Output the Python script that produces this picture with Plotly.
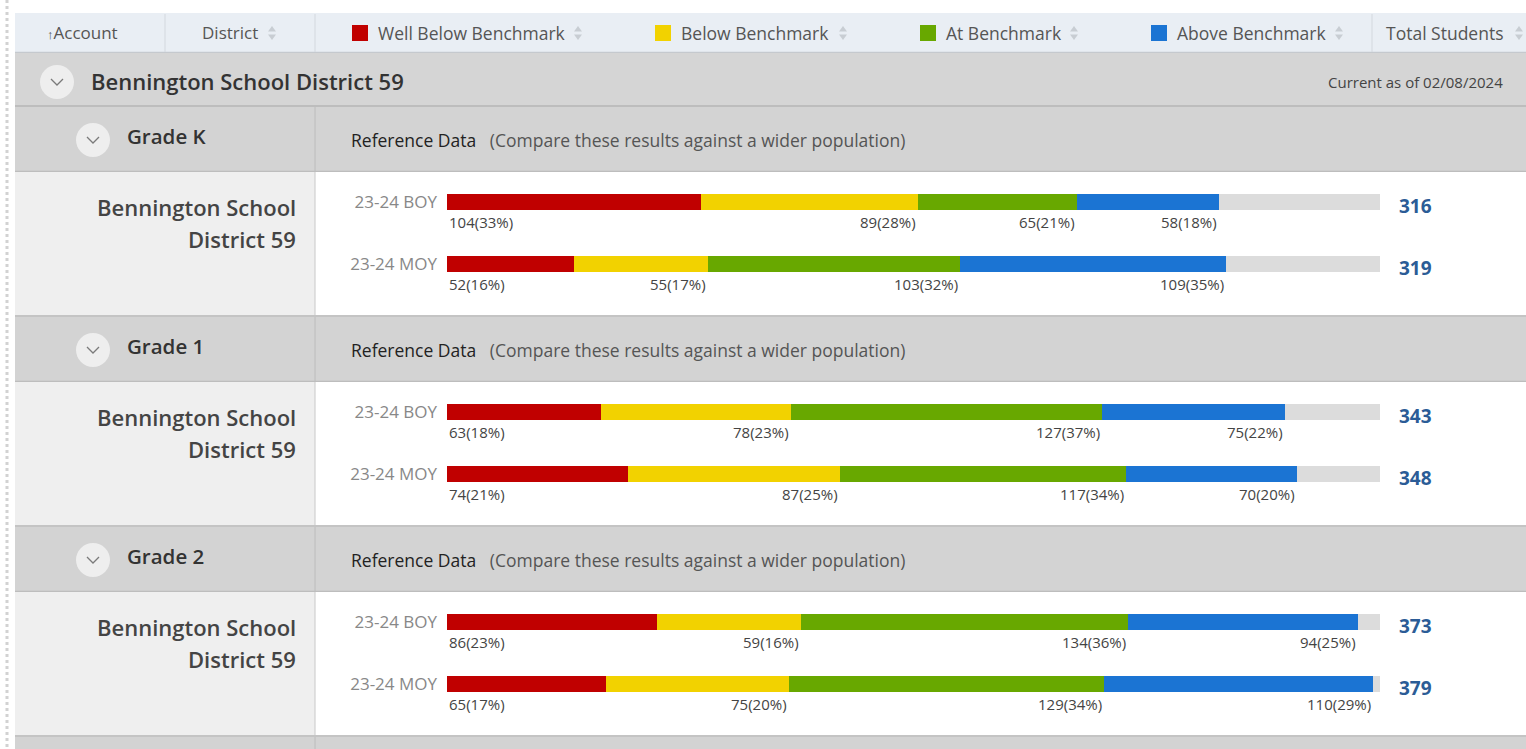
import plotly.graph_objects as go

# ---------------- data ----------------
district = "Bennington School District 59"
grades = ["Grade K", "Grade 1", "Grade 2"]
periods = ["23-24 BOY", "23-24 MOY"]
categories = ["Well Below Benchmark", "Below Benchmark", "At Benchmark", "Above Benchmark"]
cat_colors = ["#c00000", "#f2d200", "#68a800", "#1b74d3"]

# counts per grade: [BOY, MOY], each [wellbelow, below, at, above]
gradeK_counts = [[104, 89, 65, 58], [52, 55, 103, 109]]
grade1_counts = [[63, 78, 127, 75], [74, 87, 117, 70]]
grade2_counts = [[86, 59, 134, 94], [65, 75, 129, 110]]
gradeK_pcts = [[33, 28, 21, 18], [16, 17, 32, 35]]
grade1_pcts = [[18, 23, 37, 22], [21, 25, 34, 20]]
grade2_pcts = [[23, 16, 36, 25], [17, 20, 34, 29]]
gradeK_totals = [316, 319]
grade1_totals = [343, 348]
grade2_totals = [373, 379]
axis_max = 382
current_as_of = "Current as of 02/08/2024"

all_counts = [gradeK_counts, grade1_counts, grade2_counts]
all_pcts = [gradeK_pcts, grade1_pcts, grade2_pcts]
all_totals = [gradeK_totals, grade1_totals, grade2_totals]

# ---------------- layout helpers ----------------
W, H = 1526, 749
FONT = "Open Sans"


def px(x):
    return x / W


def py(y):
    return 1 - y / H


shapes = []
annotations = []


def rect(x0, y0, x1, y1, fill, line=None, layer="below"):
    shapes.append(dict(type="rect", xref="paper", yref="paper",
                       x0=px(x0), x1=px(x1), y0=py(y1), y1=py(y0),
                       fillcolor=fill, line=dict(width=0) if line is None else line,
                       layer=layer))


def hline(x0, x1, y, color, width=1):
    shapes.append(dict(type="line", xref="paper", yref="paper",
                       x0=px(x0), x1=px(x1), y0=py(y), y1=py(y),
                       line=dict(color=color, width=width), layer="below"))


def vline(x, y0, y1, color, width=1, dash=None):
    d = dict(color=color, width=width)
    if dash:
        d["dash"] = dash
    shapes.append(dict(type="line", xref="paper", yref="paper",
                       x0=px(x), x1=px(x), y0=py(y0), y1=py(y1),
                       line=d, layer="below"))


def text(x, y, s, size=14, color="#444", anchor="left", weight=400, family=FONT):
    annotations.append(dict(xref="paper", yref="paper", x=px(x), y=py(y),
                            text=s, showarrow=False, xanchor=anchor, yanchor="middle",
                            font=dict(family=family, size=size, color=color, weight=weight)))


def path(pts, color, fill=None, width=1.5):
    d = "M " + " L ".join(f"{px(a)},{py(b)}" for a, b in pts)
    if fill:
        d += " Z"
    shapes.append(dict(type="path", xref="paper", yref="paper", path=d,
                       fillcolor=fill if fill else "rgba(0,0,0,0)",
                       line=dict(color=color, width=width if not fill else 0), layer="above"))


def sort_icon(x, y):
    path([(x - 4, y - 1.5), (x, y - 7), (x + 4, y - 1.5)], "#c8cdd3", fill="#c8cdd3")
    path([(x - 4, y + 1.5), (x, y + 7), (x + 4, y + 1.5)], "#c8cdd3", fill="#c8cdd3")


def chevron(cx, cy):
    shapes.append(dict(type="circle", xref="paper", yref="paper",
                       x0=px(cx - 17), x1=px(cx + 17), y0=py(cy + 17), y1=py(cy - 17),
                       fillcolor="#eeeeee", line=dict(width=0), layer="below"))
    path([(cx - 6, cy - 3), (cx, cy + 3), (cx + 6, cy - 3)], "#7a7a7a", width=1.3)


# left dotted strip
vline(7, 0, H, "#d2d2d2", width=3, dash="dot")

# header row
rect(15, 13, W, 52, "#e9eef4")
hline(15, W, 52.5, "#c5c9ce", 1.5)
for xd in [165, 315, 1372]:
    vline(xd, 14, 52, "#d3d8de", 1)
text(45, 33, "<span style='font-size:13px'>↑</span>Account", size=17, color="#555")
text(200, 33, "District", size=17, color="#555")
sort_icon(272, 33)
head_pos = [(352, 578), (655, 843), (920, 1074), (1151, 1339)]
for (sx, ix), cat, col in zip(head_pos, categories, cat_colors):
    rect(sx, 25, sx + 16, 41, col, layer="above")
    text(sx + 24, 33, cat, size=17.5, color="#555")
    sort_icon(ix, 33)
text(1384, 33, "Total Students", size=17.5, color="#555")
sort_icon(1519, 33)

# district row
rect(15, 53, W, 106, "#d5d5d5")
hline(15, W, 106, "#bdbdbd", 2)
chevron(57, 82)
text(89, 81, district, size=22, color="#333", weight=600)
text(1505, 82, current_as_of, size=15, color="#444", anchor="right")

# grade sections
for i, g in enumerate(grades):
    g0 = 107 + 210 * i
    rect(15, g0, W, g0 + 64, "#d3d3d3")
    vline(315, g0, g0 + 64, "#bcbcbc", 1)
    hline(15, W, g0 + 64.5, "#bdbdbd", 1.5)
    chevron(93, g0 + 33)
    text(125, g0 + 29, g, size=20.5, color="#333", weight=600)
    text(349, g0 + 33, "Reference Data&nbsp;&nbsp;&nbsp;<span style='color:#555'>(Compare these results against a wider population)</span>",
         size=17.5, color="#222")
    # data row
    rect(15, g0 + 65, 315, g0 + 208, "#efefef")
    rect(315, g0 + 65, W, g0 + 208, "#ffffff")
    vline(315, g0 + 65, g0 + 208, "#c8c8c8", 1)
    hline(15, W, g0 + 209, "#c4c4c4", 2)
    text(298, g0 + 100, "Bennington School", size=22, color="#444", anchor="right", weight=600)
    text(298, g0 + 132, "District 59", size=22, color="#444", anchor="right", weight=600)

# partial next group row at the bottom
rect(15, 737, W, H, "#d3d3d3")
vline(315, 737, H, "#bcbcbc", 1)

# ---------------- bars ----------------
fig = go.Figure()
layout_axes = {}
bar_x0, bar_x1 = 447, 1380
for i in range(len(grades)):
    g0 = 107 + 210 * i
    xa = "x" if i == 0 else f"x{i + 1}"
    ya = "y" if i == 0 else f"y{i + 1}"
    counts = all_counts[i]
    pcts = all_pcts[i]
    totals = all_totals[i]
    for c, (cat, col) in enumerate(zip(categories, cat_colors)):
        fig.add_trace(go.Bar(
            y=periods, x=[counts[p][c] for p in range(len(periods))],
            orientation="h", marker=dict(color=col, line=dict(width=0)),
            name=cat, xaxis=xa, yaxis=ya, showlegend=False, hoverinfo="x+name"))
    fig.add_trace(go.Bar(
        y=periods, x=[axis_max - totals[p] for p in range(len(periods))],
        orientation="h", marker=dict(color="#dcdcdc", line=dict(width=0)),
        xaxis=xa, yaxis=ya, showlegend=False, hoverinfo="skip"))
    # value labels
    for p, per in enumerate(periods):
        cum = 0
        for c in range(len(categories)):
            cum += counts[p][c]
            annotations.append(dict(
                xref=xa, yref=ya, x=0 if c == 0 else cum, y=per,
                text=f"{counts[p][c]}({pcts[p][c]}%)", showarrow=False,
                xanchor="left" if c == 0 else "right", yanchor="middle", yshift=-20,
                font=dict(family=FONT, size=15, color="#444")))
        annotations.append(dict(
            xref="paper", yref=ya, x=px(1397), y=per, text=f"<b>{totals[p]}</b>",
            showarrow=False, xanchor="left", yanchor="middle", yshift=-4,
            font=dict(family=FONT, size=19, color="#2b5c96")))
    key = "" if i == 0 else str(i + 1)
    layout_axes["xaxis" + key] = dict(domain=[px(bar_x0), px(bar_x1)], range=[0, axis_max],
                                      visible=False, fixedrange=True, anchor=ya)
    layout_axes["yaxis" + key] = dict(domain=[py(g0 + 188), py(g0 + 64)],
                                      categoryorder="array", categoryarray=periods[::-1],
                                      range=[-0.5, 1.5], showgrid=False, zeroline=False,
                                      showline=False, ticks="", ticklabelstandoff=9,
                                      tickfont=dict(family=FONT, size=17, color="#888"),
                                      fixedrange=True, anchor=xa)

fig.update_layout(
    width=W, height=H, margin=dict(l=0, r=0, t=0, b=0),
    paper_bgcolor="#ffffff", plot_bgcolor="rgba(0,0,0,0)",
    barmode="stack", bargap=0.742, showlegend=False,
    shapes=shapes, annotations=annotations,
    font=dict(family=FONT),
    **layout_axes,
)

fig.write_html("out.html", config={"displayModeBar": False},
               post_script="document.body.style.margin='0';document.body.style.overflow='hidden';")
